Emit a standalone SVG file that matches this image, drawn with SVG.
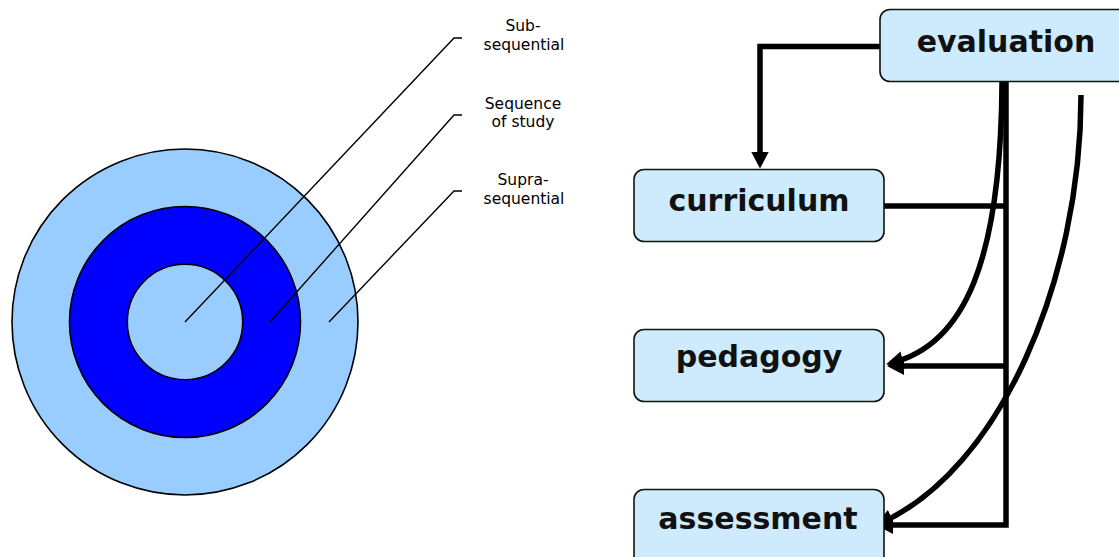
<svg xmlns="http://www.w3.org/2000/svg" width="1119" height="557" viewBox="0 0 1119 557">
<style>
.ring{stroke:#000;stroke-width:1.6}
.lead{fill:none;stroke:#000;stroke-width:1.4}
.lbl{font-family:"DejaVu Sans",Verdana,sans-serif;font-size:15.5px;fill:#000;text-anchor:middle}
.box{fill:#cdebfd;stroke:#111;stroke-width:1.6}
.btxt{font-family:"DejaVu Sans","Liberation Sans",sans-serif;font-weight:bold;font-size:30px;fill:#111;text-anchor:middle}
.con{fill:none;stroke:#000;stroke-width:5.5;stroke-linejoin:miter}
</style>
<defs>
<marker id="ah" markerUnits="userSpaceOnUse" markerWidth="18" markerHeight="18" refX="12" refY="9" orient="auto">
<path d="M0,0 L17,9 L0,18 Z" fill="#000"/>
</marker>
</defs>
<g id="target">
<circle class="ring" cx="185" cy="322" r="173" fill="#99ccff"/>
<circle class="ring" cx="185" cy="322" r="115.5" fill="#0000ff"/>
<circle class="ring" cx="185" cy="322" r="57.7" fill="#99ccff"/>
</g>
<g id="leaders">
<path class="lead" d="M185,322 L454,38 H462"/>
<path class="lead" d="M270,322 L454,115 H462"/>
<path class="lead" d="M329,322 L454,191 H462"/>
</g>
<g id="label-sub">
<text class="lbl" x="523" y="31">Sub-</text>
<text class="lbl" x="524" y="50">sequential</text>
</g>
<g id="label-seq">
<text class="lbl" x="523" y="109">Sequence</text>
<text class="lbl" x="523" y="127">of study</text>
</g>
<g id="label-supra">
<text class="lbl" x="523" y="185">Supra-</text>
<text class="lbl" x="524" y="204">sequential</text>
</g>
<g id="connectors">
<path class="con" d="M880,46.5 H760 V163.5" marker-end="url(#ah)"/>
<path class="con" d="M884,206 H1006"/>
<path class="con" d="M1006,366 H892" marker-end="url(#ah)"/>
<path class="con" d="M1006,82 V525 H881" marker-end="url(#ah)"/>
<path class="con" d="M1002,82 C1001,260 965,345 891,363" marker-end="url(#ah)"/>
<path class="con" d="M1081,95 C1081,280 1000,470 880.6,523" marker-end="url(#ah)"/>
</g>
<g id="evaluation">
<rect class="box" x="880" y="9.5" width="262" height="72" rx="10"/>
<text class="btxt" x="1006" y="52">evaluation</text>
</g>
<g id="curriculum">
<rect class="box" x="634" y="169.5" width="250" height="72" rx="10"/>
<text class="btxt" x="759" y="211">curriculum</text>
</g>
<g id="pedagogy">
<rect class="box" x="634" y="329.5" width="250" height="72" rx="10"/>
<text class="btxt" x="759" y="367">pedagogy</text>
</g>
<g id="assessment">
<rect class="box" x="634" y="489.5" width="250" height="80" rx="10"/>
<text class="btxt" x="758" y="529">assessment</text>
</g>
</svg>
